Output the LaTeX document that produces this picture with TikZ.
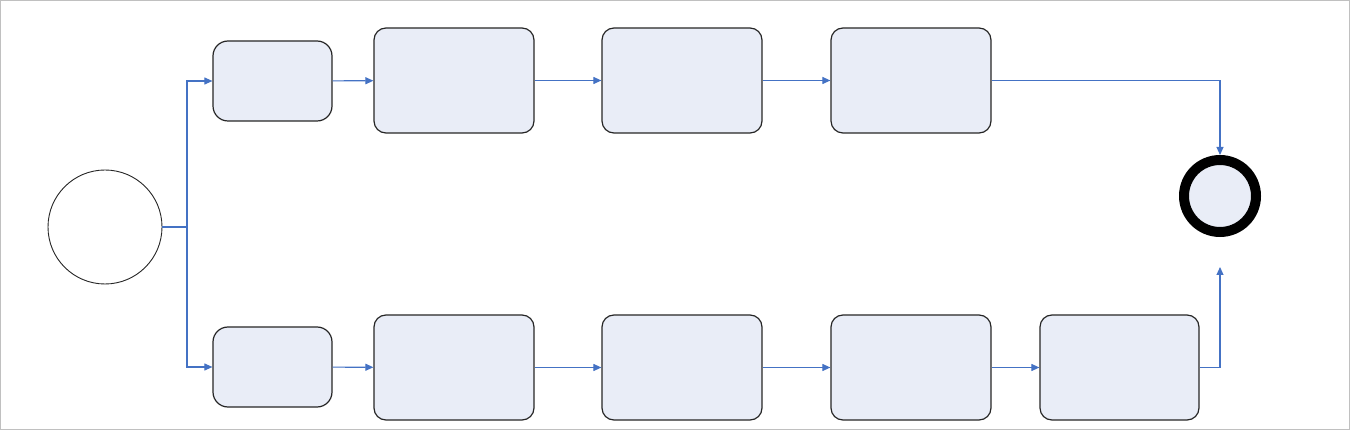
\documentclass[tikz,border=0pt]{standalone}
\usetikzlibrary{arrows.meta}
\definecolor{boxfill}{RGB}{233,237,247}
\definecolor{conncol}{RGB}{68,114,196}
\definecolor{framecol}{RGB}{192,192,192}
\begin{document}
\begin{tikzpicture}[x=1pt,y=-1pt,
  smallbox/.style={draw=black!85,line width=1.2pt,fill=boxfill,rounded corners=15pt,minimum width=119pt,minimum height=80pt,inner sep=0pt},
  bigbox/.style={draw=black!85,line width=1.2pt,fill=boxfill,rounded corners=12pt,minimum width=160pt,minimum height=105pt,inner sep=0pt},
  conn/.style={draw=conncol,line width=1.1pt},
  arr/.style={conn,-{Triangle[length=8pt,width=7pt]}}]
\useasboundingbox (0,0) rectangle (1350,430);
\draw[framecol,line width=1pt] (0.5,0.5) rectangle (1349.5,429);
% start
\node[circle,draw=black!85,line width=0.9pt,fill=white,minimum size=114pt,inner sep=0pt] (start) at (105,227) {};
\coordinate (fork) at (187,227);
% top row
\node[smallbox] (a1) at (272.5,81) {};
\node[bigbox] (a2) at (454,80.5) {};
\node[bigbox] (a3) at (682,80.5) {};
\node[bigbox] (a4) at (911,80.5) {};
% bottom row
\node[smallbox] (b1) at (272.5,367) {};
\node[bigbox] (b2) at (454,367.5) {};
\node[bigbox] (b3) at (682,367.5) {};
\node[bigbox] (b4) at (911,367.5) {};
\node[bigbox,minimum width=159pt] (b5) at (1119.5,367.5) {};
% end
\node[circle,draw=black,line width=10pt,fill=boxfill,minimum size=72pt,inner sep=0pt] (end) at (1220,196) {};
\coordinate (bend) at (1220,267);
% connectors
\draw[conn] (start.east) -- (fork);
\draw[arr] (fork) |- (a1.west);
\draw[arr] (fork) |- (b1.west);
\draw[arr] (a1) -- (a2);
\draw[arr] (a2) -- (a3);
\draw[arr] (a3) -- (a4);
\draw[arr] (a4.east) -| (end.north);
\draw[arr] (b1) -- (b2);
\draw[arr] (b2) -- (b3);
\draw[arr] (b3) -- (b4);
\draw[arr] (b4) -- (b5);
\draw[arr] (b5.east) -| (bend);
\end{tikzpicture}
\end{document}
